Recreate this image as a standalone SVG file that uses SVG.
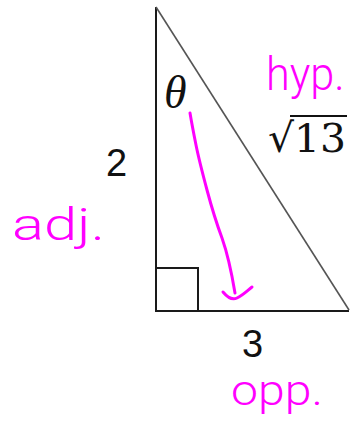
<svg xmlns="http://www.w3.org/2000/svg" width="350" height="423" viewBox="0 0 350 423">
<style>
.side{stroke:#1a1a1a;stroke-width:2;fill:none}
.hyp{stroke:#555;stroke-width:1.6;fill:none}
.num{font-family:"Liberation Sans",Arial,sans-serif;font-size:38px;fill:#111}
.hand{font-family:Roboto,"Open Sans",sans-serif;font-weight:300;fill:#ff00ff}
.ink{stroke:#ff00ff;stroke-width:3;fill:none;stroke-linecap:round;stroke-linejoin:round}
</style>
<rect width="350" height="423" fill="#fff"/>
<g id="triangle">
<path class="side" d="M156,7 V311 H349"/>
<path class="hyp" d="M156,7 L349,310"/>
<rect class="side" x="156" y="268" width="42" height="43" stroke-width="1.6"/>
</g>
<g id="labels">
<text x="164" y="108" font-family="'Liberation Serif',serif" font-style="italic" font-size="46" fill="#111">θ</text>
<text x="268" y="152" font-family="'DejaVu Serif',serif" font-size="40" fill="#111" textLength="78" lengthAdjust="spacingAndGlyphs">√13</text>
<line x1="290" y1="116" x2="347" y2="116" stroke="#111" stroke-width="2"/>
<text class="num" x="106" y="176">2</text>
<text class="num" x="242" y="357">3</text>
</g>
<g id="handwriting">
<text class="hand" transform="translate(266,90) scale(0.94,1)" x="0" y="0" font-size="46">hyp.</text>
<text class="hand" x="12" y="240" font-size="44" textLength="93" lengthAdjust="spacingAndGlyphs">adj.</text>
<text class="hand" x="231" y="405" font-size="42" textLength="92" lengthAdjust="spacingAndGlyphs">opp.</text>
</g>
<g id="connectors">
<path class="ink" d="M190,113 C192,125 194,135 196,145 C199,160 203,175 207,190 C211,205 216,222 222,238 C228,255 232,275 235,293"/>
<path class="ink" d="M223,292 C228,298 233,300 237,298 C243,295 248,290 252,287"/>
</g>
</svg>
